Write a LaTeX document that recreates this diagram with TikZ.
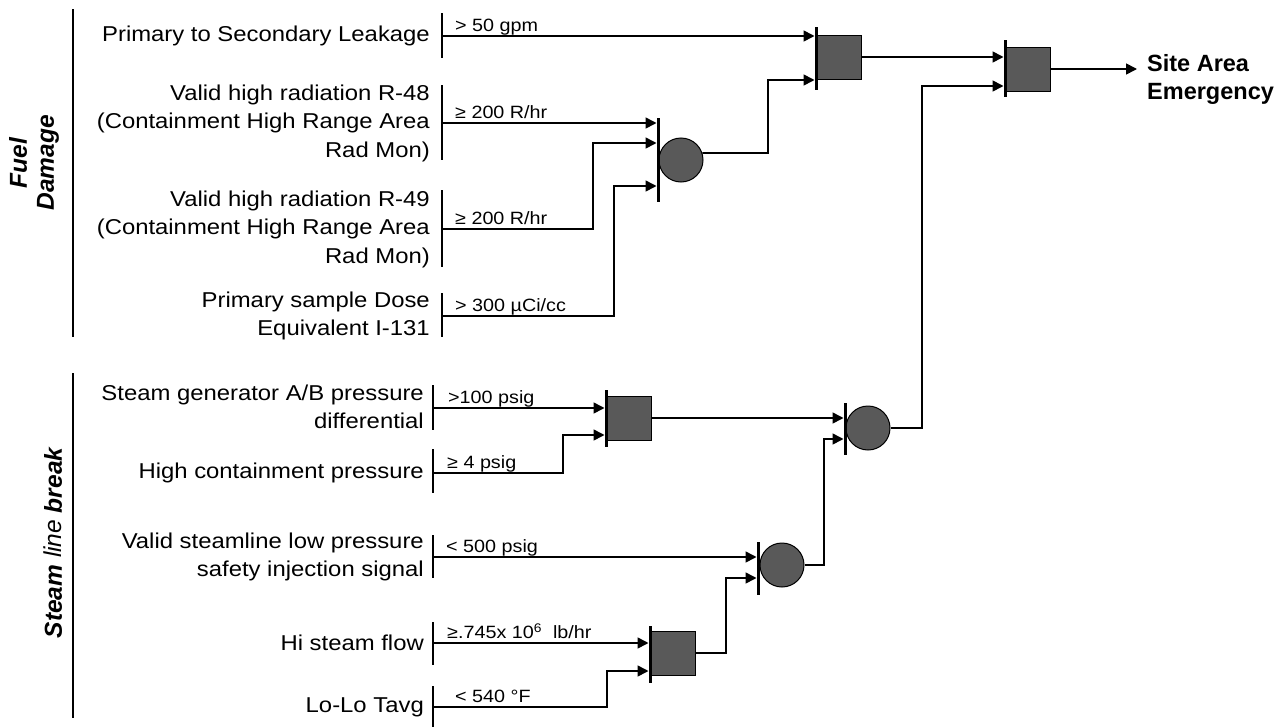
\documentclass[tikz,border=0pt]{standalone}
\usepackage{fontspec}
\setmainfont{Liberation Sans}
\newfontfamily\widefont[FakeStretch=1.11]{Liberation Sans}
\usetikzlibrary{arrows.meta}
\tikzset{
 main/.style={font=\widefont\fontsize{21.5}{28.5}\selectfont, align=right, anchor=east, inner sep=0pt},
 lbl/.style={font=\widefont\fontsize{17.8}{19}\selectfont, anchor=base west, inner sep=0pt},
 wire/.style={line width=1.6pt},
 arr/.style={wire, -{Triangle[length=11pt,width=11pt]}},
 gatebar/.style={line width=3pt},
 inbar/.style={line width=2.2pt},
 andg/.style={draw, line width=1pt, fill=black!65, minimum width=44pt, minimum height=44pt, inner sep=0pt, anchor=west},
 org/.style={circle, draw, line width=1pt, fill=black!65, minimum size=44pt, inner sep=0pt},
 grp/.style={line width=2.5pt},
 grplbl/.style={font=\fontsize{24.5}{27}\selectfont\bfseries\itshape, rotate=90, align=center, inner sep=0pt}
}
\begin{document}
\begin{tikzpicture}[x=1pt,y=-1pt]
\useasboundingbox (0,0) rectangle (1278,728);
% group brackets
\draw[grp] (73,9) -- (73,337);
\draw[grp] (73,373) -- (73,718);
\node[grplbl] (gfuel) at (34,163) {Fuel\\Damage};
\node[grplbl] (gsteam) at (53,543) {Steam {\mdseries line} break};
% top inputs
\node[main] (t1) at (430,36) {Primary to Secondary Leakage};
\node[main] (t2) at (430,123) {Valid high radiation R-48\\(Containment High Range Area\\Rad Mon)};
\node[main] (t3) at (430,229) {Valid high radiation R-49\\(Containment High Range Area\\Rad Mon)};
\node[main] (t4) at (430,316) {Primary sample Dose\\Equivalent I-131};
\draw[inbar] (442,13) -- (442,58);
\draw[inbar] (442,85) -- (442,160);
\draw[inbar] (442,190) -- (442,267);
\draw[inbar] (442,293) -- (442,337);
\coordinate (p1) at (442,36);
\coordinate (p2) at (442,123);
\coordinate (p3) at (442,229);
\coordinate (p4) at (442,316);
% bottom inputs
\node[main] (s1) at (424,407) {Steam generator A/B pressure\\differential};
\node[main] (s2) at (424,473) {High containment pressure};
\node[main] (s3) at (424,557) {Valid steamline low pressure\\safety injection signal};
\node[main] (s4) at (424,643) {Hi steam flow};
\node[main] (s5) at (424,707) {Lo-Lo Tavg};
\draw[inbar] (433,385) -- (433,430);
\draw[inbar] (433,449) -- (433,493);
\draw[inbar] (433,535) -- (433,578);
\draw[inbar] (433,622) -- (433,665);
\draw[inbar] (433,686) -- (433,727);
\coordinate (q1) at (433,408);
\coordinate (q2) at (433,473);
\coordinate (q3) at (433,557);
\coordinate (q4) at (433,643);
\coordinate (q5) at (433,707);
% gates
\node[andg] (A1) at (817,57) {};
\draw[gatebar] (816,27) -- (816,90);
\node[org] (O1) at (681,160) {};
\draw[gatebar] (658,118) -- (658,202);
\node[andg] (A2) at (1006,69) {};
\draw[gatebar] (1005,40) -- (1005,97);
\node[andg] (A3) at (607,418) {};
\draw[gatebar] (606,390) -- (606,447);
\node[org] (O4) at (868,428) {};
\draw[gatebar] (845,403) -- (845,455);
\node[org] (O3) at (782,565) {};
\draw[gatebar] (758,542) -- (758,595);
\node[andg] (A4) at (651,653) {};
\draw[gatebar] (650,626) -- (650,683);
% gate inputs
\coordinate (a1i1) at (814.5,36);
\coordinate (a1i2) at (814.5,80);
\coordinate (o1i1) at (656.5,123);
\coordinate (o1i2) at (656.5,143);
\coordinate (o1i3) at (656.5,186);
\coordinate (a2i1) at (1003.5,57);
\coordinate (a2i2) at (1003.5,86);
\coordinate (a3i1) at (604.5,408);
\coordinate (a3i2) at (604.5,435);
\coordinate (o4i1) at (843.5,418);
\coordinate (o4i2) at (843.5,439);
\coordinate (o3i1) at (756.5,557);
\coordinate (o3i2) at (756.5,578);
\coordinate (a4i1) at (648.5,643);
\coordinate (a4i2) at (648.5,671);
\coordinate (out) at (1137,69);
% connectors
\draw[arr] (p1) -- (a1i1);
\draw[arr] (p2) -- (o1i1);
\draw[arr] (p3) -- (593,229) -- (593,143) -- (o1i2);
\draw[arr] (p4) -- (614,316) -- (614,186) -- (o1i3);
\draw[arr] (O1.18) -- (768,153) -- (768,80) -- (a1i2);
\draw[arr] (A1.east) -- (a2i1);
\draw[arr] (A2.east) -- (out);
\draw[arr] (q1) -- (a3i1);
\draw[arr] (q2) -- (563,473) -- (563,435) -- (a3i2);
\draw[arr] (A3.east) -- (o4i1);
\draw[arr] (O4.east) -- (922,428) -- (922,86) -- (a2i2);
\draw[arr] (q3) -- (o3i1);
\draw[arr] (O3.east) -- (824,565) -- (824,439) -- (o4i2);
\draw[arr] (q4) -- (a4i1);
\draw[arr] (q5) -- (607,707) -- (607,671) -- (a4i2);
\draw[arr] (A4.east) -- (726,653) -- (726,578) -- (o3i2);
% labels
\node[lbl] (l1) at (455,31.5) {> 50 gpm};
\node[lbl] (l2) at (455,118.5) {≥ 200 R/hr};
\node[lbl] (l3) at (455,224.5) {≥ 200 R/hr};
\node[lbl] (l4) at (455,311.5) {> 300 µCi/cc};
\node[lbl] (l5) at (448,403.5) {>100 psig};
\node[lbl] (l6) at (447,468.5) {≥ 4 psig};
\node[lbl] (l7) at (446,552.5) {< 500 psig};
\node[lbl] (l8) at (447,638.5) {≥.745x 10\textsuperscript{6}\ \ lb/hr};
\node[lbl] (l9) at (455,702.5) {< 540 °F};
\node[font=\fontsize{23.5}{28}\selectfont\bfseries, align=left, anchor=west, inner sep=0pt] (sae) at (1147,79) {Site Area\\Emergency};
\end{tikzpicture}
\end{document}
